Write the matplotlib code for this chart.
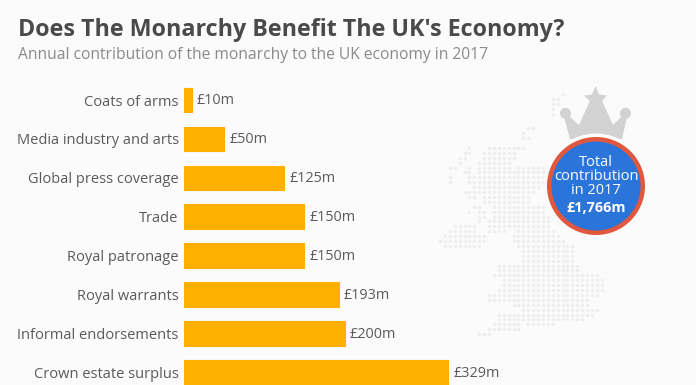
import matplotlib
matplotlib.use("Agg")
import matplotlib.pyplot as plt
from matplotlib.patches import Circle, Polygon

plt.rcParams["font.family"] = ["Open Sans", "DejaVu Sans"]

categories = [
    "Coats of arms",
    "Media industry and arts",
    "Global press coverage",
    "Trade",
    "Royal patronage",
    "Royal warrants",
    "Informal endorsements",
    "Crown estate surplus",
]
values = [10, 50, 125, 150, 150, 193, 200, 329]
value_labels = ["£10m", "£50m", "£125m", "£150m", "£150m", "£193m", "£200m", "£329m"]

# 지도 점: 행 번호별 (시작 열, 끝 열)
map_rows = {
    0: [(25, 25)], 1: [(23, 24)], 2: [(23, 24)], 3: [(23, 23)], 4: [(23, 23)],
    7: [(18, 19)], 8: [(17, 17)], 9: [(17, 18)],
    11: [(6, 6), (10, 17)], 12: [(5, 6), (9, 15)], 13: [(4, 5), (9, 15)],
    14: [(4, 4), (8, 14)], 15: [(2, 3), (6, 6), (8, 14), (16, 21)],
    16: [(5, 6), (8, 21)], 17: [(2, 2), (6, 21)], 18: [(2, 2), (6, 21)],
    19: [(7, 20)], 20: [(5, 19)], 21: [(6, 7), (9, 18)], 22: [(9, 18)],
    23: [(7, 8), (11, 21)], 24: [(6, 6), (8, 9), (11, 21)], 25: [(8, 9), (11, 22)],
    26: [(8, 8), (10, 22)], 27: [(3, 7), (10, 22)], 28: [(2, 7), (10, 13), (16, 23)],
    29: [(1, 9), (15, 24)], 30: [(0, 9), (15, 25)], 31: [(1, 8), (16, 27)],
    32: [(17, 27)], 33: [(17, 27)], 34: [(17, 27)], 35: [(12, 28)], 36: [(12, 28)],
    37: [(11, 32)], 38: [(13, 33)], 39: [(13, 33)], 40: [(12, 33)], 41: [(10, 32)],
    42: [(10, 30)], 43: [(15, 30)], 44: [(17, 32)], 45: [(12, 31)], 46: [(12, 29)],
    47: [(11, 16), (18, 21), (22, 23)], 48: [(10, 16)], 49: [(8, 10)],
}

crown_outline = [
    (564, 117), (570, 117), (579, 125), (588, 105), (590, 101), (584, 95.5), (592, 94.5),
    (595.7, 86), (599, 94.5), (607, 95.5), (602, 101), (604, 105), (613, 125), (621, 117),
    (627, 117), (622, 139), (570, 139),
]

bar_color = "#ffb000"
text_color = "#5a5a5a"
bg_color = "#fbfbfb"

fig = plt.figure(figsize=(6.96, 3.85), dpi=100, facecolor=bg_color)

# 배경 장식 (픽셀 좌표)
deco = fig.add_axes([0, 0, 1, 1], zorder=1)
deco.set_xlim(0, 696)
deco.set_ylim(385, 0)
deco.axis("off")

xs, ys = [], []
for row, runs in map_rows.items():
    for start, end in runs:
        for col in range(start, end + 1):
            xs.append(440 + col * 4.9)
            ys.append(94 + row * 4.9)
deco.scatter(xs, ys, s=6, color="#eeeeee", marker="o", linewidths=0)

deco.add_patch(Polygon(crown_outline, closed=True, color="#d2d2d2", lw=0))
deco.add_patch(Circle((565.5, 113.3), 5.5, color="#d2d2d2", lw=0))
deco.add_patch(Circle((625.5, 113.3), 5.5, color="#d2d2d2", lw=0))
deco.add_patch(Circle((596, 186), 52.5, color=bg_color, lw=0))
deco.add_patch(Circle((596, 186), 49, color="#e2583e", lw=0))
deco.add_patch(Circle((596, 186), 44.5, color="#2b74d9", lw=0))

for txt, y in [("Total", 163), ("contribution", 176.5), ("in 2017", 190)]:
    deco.text(596, y, txt, color="white", fontsize=10.5, ha="center", va="center")
deco.text(596, 208, "£1,766m", color="white", fontsize=10.4, fontweight="bold",
          ha="center", va="center")

# 막대 차트
ax = fig.add_axes([184 / 696, 0, (696 - 184) / 696, 1], zorder=2)
ax.patch.set_alpha(0)
ax.set_xlim(0, 512 / 0.803)
ax.set_ylim((385 - 100) / 38.9, -100 / 38.9)
positions = list(range(len(categories)))
ax.barh(positions, values, height=0.63, color=bar_color, edgecolor=bar_color,
        linewidth=0.8, joinstyle="round")
ax.set_yticks(positions, categories)
ax.tick_params(axis="y", length=0, pad=3.8, labelsize=10.5, labelcolor=text_color)
ax.set_xticks([])
for side in ax.spines.values():
    side.set_visible(False)

for pos, val, lab in zip(positions, values, value_labels):
    ax.annotate(lab, (val, pos), xytext=(3.5, -0.7), textcoords="offset points",
                color=text_color, fontsize=10.4, va="center", ha="left")

fig.text(18 / 696, 1 - 30 / 385, "Does The Monarchy Benefit The UK's Economy?",
         fontsize=16.75, fontweight="bold", color="#4a4a4a", va="center", ha="left")
fig.text(18 / 696, 1 - 55 / 385, "Annual contribution of the monarchy to the UK economy in 2017",
         fontsize=11.25, color="#8a8a8a", va="center", ha="left")

fig.savefig("out.png", dpi=100, facecolor=bg_color)
